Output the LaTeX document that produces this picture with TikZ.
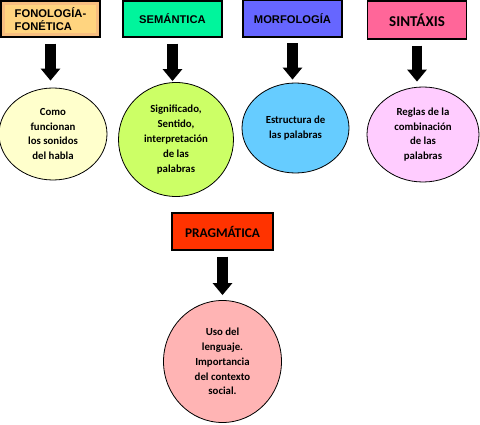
\documentclass[tikz,border=0pt]{standalone}
\usepackage{fontspec}
\newfontfamily\arialfont{Liberation Sans}
\newfontfamily\calibrifont{Carlito}
\usetikzlibrary{shapes,positioning,calc,arrows.meta}

\definecolor{fonout}{HTML}{F7BE80}
\definecolor{fonin}{HTML}{FFD47F}
\definecolor{semfill}{HTML}{00F59C}
\definecolor{morfill}{HTML}{6666FF}
\definecolor{sinfill}{HTML}{FF6699}
\definecolor{prafill}{HTML}{FF3300}
\definecolor{fonc}{HTML}{FFFFCC}
\definecolor{semc}{HTML}{CCFF66}
\definecolor{morc}{HTML}{66CCFF}
\definecolor{sinc}{HTML}{FFCCFF}
\definecolor{prac}{HTML}{FFB4B4}

\begin{document}
\begin{tikzpicture}[x=1pt,y=-1pt]
	\tikzstyle{area}=[draw, rectangle, line width=1.6pt, minimum width=99pt, minimum height=36.5pt, inner sep=0pt, font=\arialfont\bfseries\fontsize{11.2}{12.5}\selectfont];
	\tikzstyle{concept}=[draw, ellipse, line width=0.8pt, align=center, inner sep=0pt, font=\calibrifont\bfseries\fontsize{10.8}{14.8}\selectfont];
	\tikzstyle{bigarrow}=[line width=10.5pt, -{Triangle[length=12pt,width=19pt]}, shorten <=5.5pt];

	\useasboundingbox (0,0) rectangle (480,425);

	% areas of study
	\node[area, align=left, fill=fonout, path picture={\fill[fonin] ([shift={(4pt,-4pt)}]path picture bounding box.north west) rectangle ([shift={(-4pt,4pt)}]path picture bounding box.south east);}] (fon) at (50.5,19) {FONOLOGÍA-\\FONÉTICA};
	\node[area, fill=semfill] (sem) at (172.5,19) {SEMÁNTICA};
	\node[area, fill=morfill] (mor) at (292.5,18.5) {MORFOLOGÍA};
	\node[area, fill=sinfill, minimum height=38.5pt, font=\calibrifont\bfseries\fontsize{15}{16}\selectfont] (sin) at (417,20) {SINTÁXIS};
	\node[area, fill=prafill, minimum width=101pt, minimum height=37.5pt, font=\calibrifont\bfseries\fontsize{13.3}{15}\selectfont] (pra) at (222.5,231.5) {PRAGMÁTICA};

	% what each one studies
	\node[concept, fill=fonc, minimum width=108pt, minimum height=92pt] (fon_c) at (53,134) {Como\\funcionan\\los sonidos\\del habla};
	\node[concept, fill=semc, minimum width=115pt, minimum height=114pt] (sem_c) at (176,139.5) {Significado,\\Sentido,\\interpretación\\de las\\palabras};
	\node[concept, fill=morc, minimum width=107pt, minimum height=90pt] (mor_c) at (295.5,128) {Estructura de\\las palabras};
	\node[concept, fill=sinc, minimum width=112pt, minimum height=95pt] (sin_c) at (423,134.5) {Reglas de la\\combinación\\de las\\palabras};
	\node[concept, fill=prac, minimum width=118pt, minimum height=122pt] (pra_c) at (222.5,361.5) {Uso del\\lenguaje.\\Importancia\\del contexto\\social.};

	\draw[bigarrow, shorten >=7pt] (fon.south) -- (fon.south |- fon_c.north);
	\draw[bigarrow, shorten >=1pt] (sem.south) -- (sem.south |- sem_c.north);
	\draw[bigarrow, shorten >=3pt] (mor.south) -- (mor.south |- mor_c.north);
	\draw[bigarrow, shorten >=5pt] (sin.south) -- (sin.south |- sin_c.north);
	\draw[bigarrow, shorten >=5pt] (pra.south) -- (pra.south |- pra_c.north);
\end{tikzpicture}
\end{document}
